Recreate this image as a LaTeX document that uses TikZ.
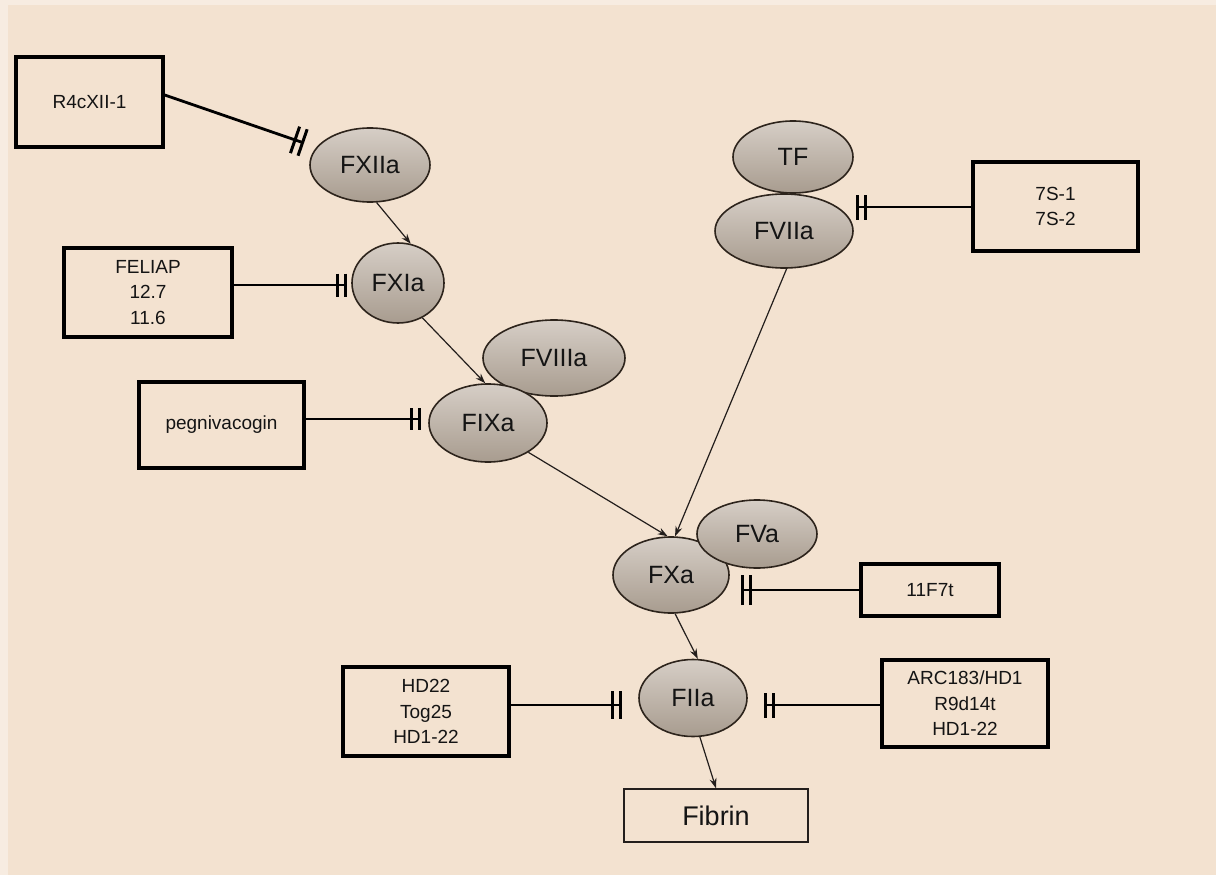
\documentclass[tikz,border=0pt]{standalone}
\usepackage{fontspec}
\setmainfont{Liberation Sans}
\usetikzlibrary{shapes.geometric,arrows.meta}
\definecolor{bg}{RGB}{243,226,208}
\definecolor{bgl}{RGB}{247,236,225}
\definecolor{ellTop}{RGB}{214,206,198}
\definecolor{ellBot}{RGB}{168,156,143}
\definecolor{ellline}{RGB}{45,36,28}
\definecolor{txt}{RGB}{20,20,20}
\definecolor{arrc}{RGB}{35,30,28}
\begin{document}
\begin{tikzpicture}[x=1pt,y=-1pt,
  ell/.style={ellipse, draw=ellline, line width=1.6pt, top color=ellTop, bottom color=ellBot, inner sep=0pt, font=\fontsize{25}{28}\selectfont, text=txt},
  box/.style={draw=black, line width=3.4pt, fill=bg, inner sep=0pt, align=center, font=\fontsize{19}{25.5}\selectfont, text=txt},
  inh/.style={line width=2.8pt, draw=black, -{Bar[width=#1,line width=3pt,sep=5pt]Bar[width=#1,line width=3pt]}},
  inh/.default=25pt,
  arr/.style={line width=1.2pt, draw=arrc, -{Stealth[length=10pt,width=7pt]}}
]
\useasboundingbox (0,0) rectangle (1216,875);
\fill[bgl] (0,0) rectangle (1216,875);
\fill[bg] (8,5) rectangle (1216,875);

% boxes
\node[box, minimum width=147pt, minimum height=90pt] (R4c) at (89.5,102) {R4cXII-1};
\node[box, minimum width=168pt, minimum height=89pt] (FELIAP) at (148,292.5) {FELIAP\\12.7\\11.6};
\node[box, minimum width=165pt, minimum height=86pt] (peg) at (221.5,425) {pegnivacogin};
\node[box, minimum width=165pt, minimum height=89pt] (S7) at (1055.5,206.5) {7S-1\\7S-2};
\node[box, minimum width=138pt, minimum height=52pt] (F7t) at (930,590) {11F7t};
\node[box, minimum width=166pt, minimum height=89pt] (HD22) at (426,711.5) {HD22\\Tog25\\HD1-22};
\node[box, minimum width=166pt, minimum height=87pt] (ARC) at (965,703.5) {ARC183/HD1\\R9d14t\\HD1-22};
\node[box, line width=1.4pt, draw=arrc, minimum width=184pt, minimum height=53pt, font=\fontsize{27}{30}\selectfont] (Fibrin) at (716,815.5) {Fibrin};

% ellipses
\node[ell, minimum width=120pt, minimum height=74pt] (FXIIa) at (370,165) {FXIIa};
\node[ell, minimum width=92pt, minimum height=80pt] (FXIa) at (398,283) {FXIa};
\node[ell, minimum width=142pt, minimum height=76pt] (FVIIIa) at (554,358) {FVIIIa};
\node[ell, minimum width=118pt, minimum height=78pt] (FIXa) at (488,423) {FIXa};
\node[ell, minimum width=120pt, minimum height=72pt] (TF) at (793,157) {TF};
\node[ell, minimum width=138pt, minimum height=74pt] (FVIIa) at (784,231) {FVIIa};
\node[ell, minimum width=116pt, minimum height=76pt] (FXa) at (671,575) {FXa};
\node[ell, minimum width=120pt, minimum height=68pt] (FVa) at (757,534) {FVa};
\node[ell, minimum width=108pt, minimum height=77pt] (FIIa) at (693,698) {FIIa};

% inhibitor end points
\coordinate (iFXIIa) at (304,143);
\coordinate (iFXIa) at (347,285);
\coordinate (iFIXa) at (421,419);
\coordinate (iFVIIa) at (856,207);
\coordinate (iFXa) at (741,590);
\coordinate (iFIIaL) at (622,705);
\coordinate (iFIIaR) at (764,705);

\draw[inh=28pt] ([yshift=7pt]R4c.east) -- (iFXIIa);
\draw[inh=23pt] (FELIAP.east |- iFXIa) -- (iFXIa);
\draw[inh=22pt] (peg.east |- iFIXa) -- (iFIXa);
\draw[inh=25pt] (S7.west |- iFVIIa) -- (iFVIIa);
\draw[inh=30pt] (F7t.west |- iFXa) -- (iFXa);
\draw[inh=28pt] (HD22.east |- iFIIaL) -- (iFIIaL);
\draw[inh=25pt] (ARC.west |- iFIIaR) -- (iFIIaR);

% activation arrows
\draw[arr] (FXIIa.-80) -- (FXIa.72);
\draw[arr] (FXIa.-55) -- (FIXa.94);
\draw[arr] (FIXa.-36) -- (FXa.95);
\draw[arr] (FVIIa.-86) -- (FXa.84);
\draw[arr] (FXa.-84) -- (FIIa.83);
\draw[arr] (FIIa.-80) -- (Fibrin.north);
\end{tikzpicture}
\end{document}
